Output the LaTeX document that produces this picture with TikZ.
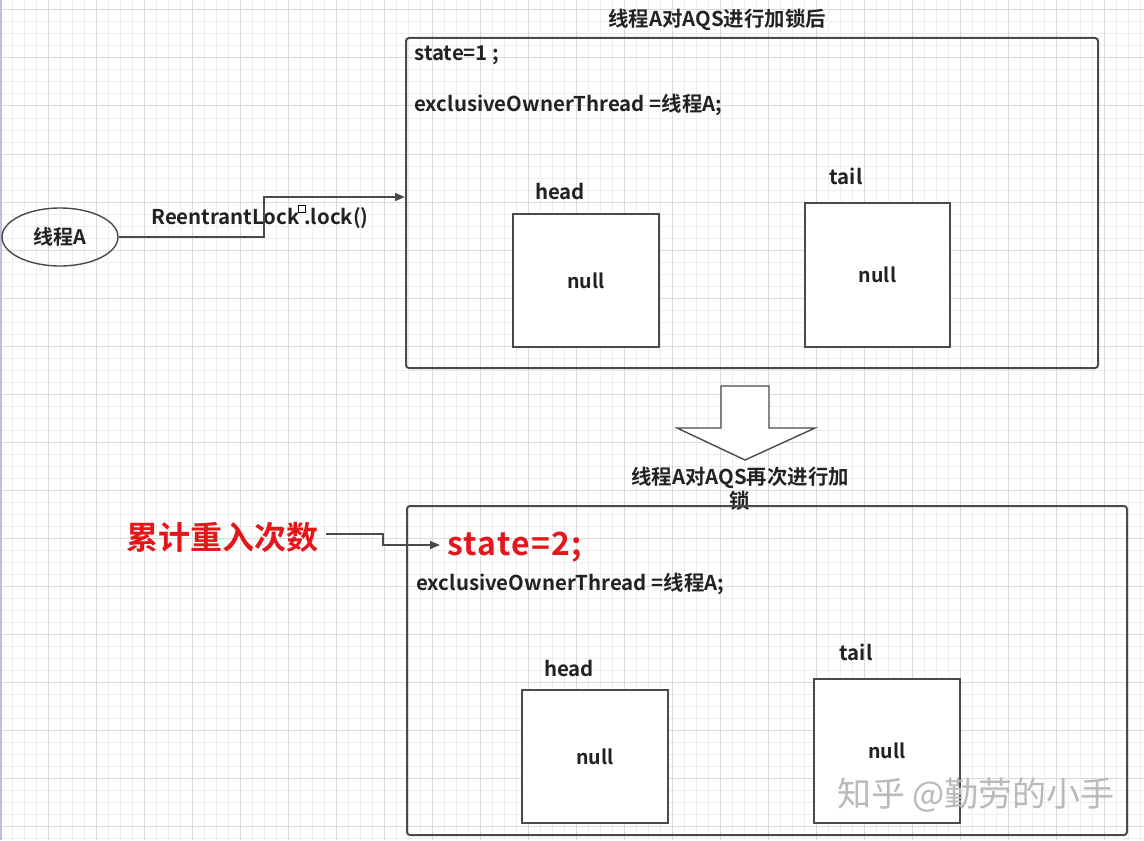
\documentclass[tikz,border=0pt]{standalone}
\usepackage{fontspec}
\setmainfont{Noto Sans CJK SC}[BoldFont={* Bold}]
\usetikzlibrary{arrows.meta,shapes.geometric}
\definecolor{gridminor}{HTML}{EDEDED}
\definecolor{gridmajor}{HTML}{DADADA}
\definecolor{linegray}{HTML}{4A4A4A}
\definecolor{textdark}{HTML}{222222}
\definecolor{markred}{HTML}{E5161B}
\tikzset{
  panel/.style = {draw=linegray, line width=1pt, rounded corners=1.5pt},
  cell/.style = {draw=linegray, line width=0.7pt, fill=white,
    font=\bfseries\fontsize{9.8}{11}\selectfont, text=textdark},
  code/.style = {anchor=west, inner sep=0pt, text=textdark,
    font=\bfseries\fontsize{10.2}{12}\selectfont},
  caption/.style = {inner sep=0pt, align=center, text=textdark,
    font=\bfseries\fontsize{10.2}{12}\selectfont},
  link/.style = {draw=linegray, line width=0.7pt, -{Triangle[length=5pt,width=4pt]}}
}

\begin{document}
\begin{tikzpicture}[x=0.5pt,y=-0.5pt]
  \useasboundingbox (0,0) rectangle (1144,840);
  % background grid
  \fill[white] (0,0) rectangle (1144,840);
  \foreach \gx in {0,12,...,1140}
    \draw[gridminor,line width=0.5pt] (\gx,0) -- (\gx,840);
  \foreach \gy in {10,22,...,838}
    \draw[gridminor,line width=0.5pt] (0,\gy) -- (1144,\gy);
  \foreach \gx in {0,48,...,1140}
    \draw[gridmajor,line width=0.5pt] (\gx,0) -- (\gx,840);
  \foreach \gy in {10,58,...,838}
    \draw[gridmajor,line width=0.5pt] (0,\gy) -- (1144,\gy);
  \fill[blue!25!gray!40] (0,0) rectangle (2,840);
  %
  % first state
  \node[caption] (titleA) at (717,20) {线程A对AQS进行加锁后};
  \node[panel, minimum width=346pt, minimum height=165pt] (panelA) at (752,203) {};
  \node[code] (stateA) at (414,55) {state=1 ;};
  \node[code] (ownerA) at (414,105) {exclusiveOwnerThread =线程A;};
  \node[cell, minimum width=73pt, minimum height=66.5pt] (headA) at (586,280.5) {null};
  \node[cell, minimum width=72.5pt, minimum height=72pt] (tailA) at (877.5,275) {null};
  \node[code, anchor=center] at (560,192) {head};
  \node[code, anchor=center] at (846,176) {tail};
  %
  \node[ellipse, draw=linegray, line width=0.7pt, minimum width=58pt, minimum height=29pt,
    inner sep=0pt, font=\bfseries\fontsize{10}{11}\selectfont, text=textdark] (threadA) at (60,237) {线程A};
  \node[code, anchor=center] (lockcall) at (260,218) {ReentrantLock .lock()};
  \draw[black, line width=0.5pt] (298,205) rectangle (305,212);
  \coordinate (bendA) at (264,197);
  \draw[link] (threadA.east) -| (bendA) -- (bendA -| panelA.west);
  %
  % block arrow
  \draw[linegray, fill=white, line width=0.7pt]
    (721,386) -- (769,386) -- (769,428) -- (815,428) -- (745,460)
    -- (677,428) -- (721,428) -- cycle;
  %
  % second state
  \node[caption] (titleB) at (740,489) {线程A对AQS再次进行加\\锁};
  \node[panel, minimum width=360pt, minimum height=164.5pt] (panelB) at (767,670.5) {};
  \node[code, text=markred, font=\bfseries\fontsize{16}{18}\selectfont\addfontfeature{LetterSpace=4}] (stateB) at (447,547) {state=2;};
  \node[code] (ownerB) at (416,584) {exclusiveOwnerThread =线程A;};
  \node[cell, minimum width=73pt, minimum height=66.5pt] (headB) at (595,756.5) {null};
  \node[cell, minimum width=73pt, minimum height=72pt] (tailB) at (887,751) {null};
  \node[code, anchor=center] at (569,668) {head};
  \node[code, anchor=center] at (856,652) {tail};
  %
  \node[inner sep=0pt, text=markred, font=\bfseries\fontsize{16}{18}\selectfont] (counter) at (222,537) {累计重入次数};
  \coordinate (bendB) at (383,534);
  \draw[link] (counter.east |- bendB) ++(8,0) -- (bendB) |- (440,545);
  %
  \node[text=gray!55, font=\fontsize{17}{20}\selectfont] (mark) at (976,795) {知乎 @勤劳的小手};
\end{tikzpicture}
\end{document}
